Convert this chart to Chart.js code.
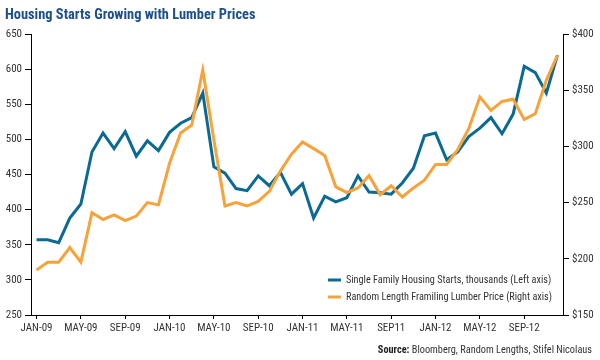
<!DOCTYPE html>
<html>
<head>
<meta charset="utf-8">
<script src="https://cdn.jsdelivr.net/npm/chart.js@4.4.1/dist/chart.umd.min.js"></script>
<style>
  html, body { margin: 0; padding: 0; background: #ffffff; }
  #wrap { position: relative; width: 600px; height: 360px; }
  canvas { display: block; }
</style>
</head>
<body>
<div id="wrap"><canvas id="c" width="600" height="360"></canvas></div>
<script>
// ---- Data ----
const months = [
  "JAN-09","FEB-09","MAR-09","APR-09","MAY-09","JUN-09","JUL-09","AUG-09","SEP-09","OCT-09","NOV-09","DEC-09",
  "JAN-10","FEB-10","MAR-10","APR-10","MAY-10","JUN-10","JUL-10","AUG-10","SEP-10","OCT-10","NOV-10","DEC-10",
  "JAN-11","FEB-11","MAR-11","APR-11","MAY-11","JUN-11","JUL-11","AUG-11","SEP11","OCT-11","NOV-11","DEC-11",
  "JAN-12","FEB-12","MAR-12","APR-12","MAY-12","JUN-12","JUL-12","AUG-12","SEP-12","OCT-12","NOV-12","DEC-12"
];
const xTickLabels = ["JAN-09","MAY-09","SEP-09","JAN-10","MAY-10","SEP-10","JAN-11","MAY-11","SEP11","JAN-12","MAY-12","SEP-12"];
const housingStarts = [
  357, 357, 353, 388, 408, 482, 509, 487, 511, 476, 498, 484,
  510, 523, 531, 566, 461, 452, 430, 427, 448, 434, 453, 422,
  437, 388, 419, 411, 417, 448, 425, 424, 422, 438, 459, 505,
  509, 471, 482, 504, 516, 531, 508, 536, 604, 595, 566, 620
];
const lumberPrice = [
  190, 197, 197, 210, 197, 241, 235, 239, 234, 238, 250, 248,
  285, 312, 319, 368, 306, 247, 250, 247, 251, 260, 278, 293,
  304, 298, 292, 264, 259, 263, 274, 257, 265, 255, 263, 270,
  284, 284, 297, 316, 344, 332, 340, 342, 324, 329, 359, 381
];
const leftTicks = [250, 300, 350, 400, 450, 500, 550, 600, 650];
const rightTicks = [150, 200, 250, 300, 350, 400];
const seriesLabels = [
  "Single Family Housing Starts, thousands (Left axis)",
  "Random Length Framiling Lumber Price (Right axis)"
];
const titleText = "Housing Starts Growing with Lumber Prices";

// ---- Styles ----
const FONT = '"Liberation Sans Narrow", "Arial Narrow", "Roboto Condensed", "Liberation Sans", sans-serif';
const BLUE = '#0b6a93';
const ORANGE = '#f8a23a';
const TEXT = '#333333';

const decorPlugin = {
  id: 'decor',
  afterDraw(chart) {
    const ctx = chart.ctx;
    ctx.save();
    // Title
    ctx.fillStyle = '#1c4f8d';
    ctx.font = 'bold 14.4px ' + FONT;
    ctx.textBaseline = 'alphabetic';
    ctx.textAlign = 'left';
    ctx.fillText(titleText, 5, 19);
    // Legend
    const ds = chart.data.datasets;
    const lx = 328, ly = [280, 297];
    ctx.font = '10.2px ' + FONT;
    ctx.textBaseline = 'middle';
    ds.forEach((d, i) => {
      ctx.strokeStyle = d.borderColor;
      ctx.lineWidth = 3;
      ctx.beginPath();
      ctx.moveTo(lx, ly[i]);
      ctx.lineTo(lx + 13, ly[i]);
      ctx.stroke();
      ctx.fillStyle = TEXT;
      ctx.fillText(d.label, lx + 18, ly[i]);
    });
    // Source
    ctx.textAlign = 'left';
    ctx.textBaseline = 'middle';
    const rest = ' Bloomberg, Random Lengths, Stifel Nicolaus';
    ctx.font = '10.3px ' + FONT;
    const wRest = ctx.measureText(rest).width;
    ctx.font = 'bold 10.3px ' + FONT;
    const wBold = ctx.measureText('Source:').width;
    const xEnd = 592;
    ctx.fillStyle = '#222';
    ctx.fillText('Source:', xEnd - wRest - wBold, 350);
    ctx.font = '10.3px ' + FONT;
    ctx.fillStyle = TEXT;
    ctx.fillText(rest, xEnd - wRest, 350);
    ctx.restore();
  }
};

new Chart(document.getElementById('c'), {
  type: 'line',
  data: {
    labels: months,
    datasets: [
      {
        label: seriesLabels[0],
        data: housingStarts,
        yAxisID: 'yL',
        borderColor: BLUE,
        backgroundColor: BLUE,
        borderWidth: 3,
        pointRadius: 0,
        tension: 0,
        order: 2
      },
      {
        label: seriesLabels[1],
        data: lumberPrice,
        yAxisID: 'yR',
        borderColor: ORANGE,
        backgroundColor: ORANGE,
        borderWidth: 3,
        pointRadius: 0,
        tension: 0,
        order: 1
      }
    ]
  },
  options: {
    responsive: false,
    animation: false,
    devicePixelRatio: 1,
    layout: { padding: { top: 34, left: 0, right: 0, bottom: 0 } },
    plugins: {
      legend: { display: false },
      title: { display: false },
      tooltip: { enabled: false }
    },
    scales: {
      x: {
        type: 'category',
        offset: true,
        grid: {
          display: true,
          drawOnChartArea: false,
          drawTicks: true,
          tickLength: 4,
          offset: false,
          tickColor: (c) => (xTickLabels.includes(months[c.index]) ? '#000' : 'rgba(0,0,0,0)')
        },
        border: { display: true, color: '#000', width: 1 },
        ticks: {
          autoSkip: false,
          maxRotation: 0,
          padding: 3,
          color: TEXT,
          font: { family: FONT, size: 11 },
          callback: function (v, i) {
            const lab = months[i];
            return xTickLabels.includes(lab) ? lab : '';
          }
        },
        afterFit(scale) { scale.height = 45; }
      },
      yL: {
        type: 'linear',
        position: 'left',
        min: leftTicks[0],
        max: leftTicks[leftTicks.length - 1],
        afterBuildTicks(scale) { scale.ticks = leftTicks.map(v => ({ value: v })); },
        grid: { display: true, drawOnChartArea: false, drawTicks: true, tickLength: 6, color: '#000' },
        border: { display: true, color: '#000', width: 1 },
        ticks: {
          padding: 3,
          color: TEXT,
          font: { family: FONT, size: 11 },
          callback: (v) => String(v)
        },
        afterFit(scale) { scale.width = 31; }
      },
      yR: {
        type: 'linear',
        position: 'right',
        min: rightTicks[0],
        max: rightTicks[rightTicks.length - 1],
        afterBuildTicks(scale) { scale.ticks = rightTicks.map(v => ({ value: v })); },
        grid: { display: true, drawOnChartArea: false, drawTicks: true, tickLength: 6, color: '#000' },
        border: { display: true, color: '#000', width: 1 },
        ticks: {
          padding: 3,
          color: TEXT,
          font: { family: FONT, size: 11 },
          callback: (v) => '$' + v
        },
        afterFit(scale) { scale.width = 37; }
      }
    }
  },
  plugins: [decorPlugin]
});
</script>
</body>
</html>
